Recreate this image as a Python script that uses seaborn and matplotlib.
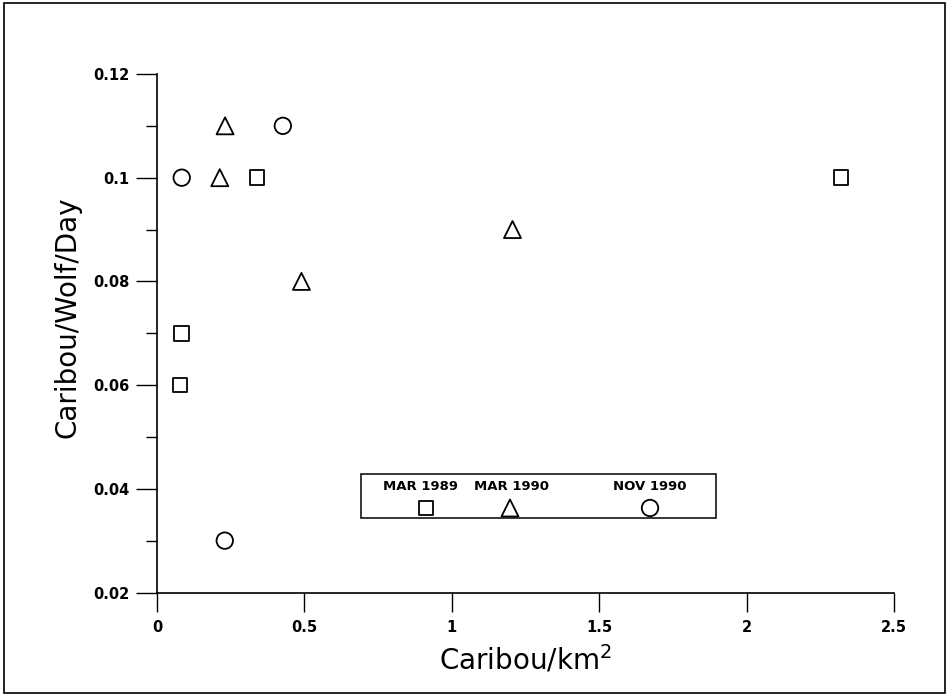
import pandas as pd
import seaborn as sns
import matplotlib.pyplot as plt
from matplotlib.patches import Rectangle
from matplotlib.ticker import MultipleLocator

# Data
mar1989_x = [0.084, 0.078, 0.339, 2.32]
mar1989_y = [0.07, 0.06, 0.10, 0.10]
mar1990_x = [0.231, 0.213, 0.49, 1.206]
mar1990_y = [0.11, 0.10, 0.08, 0.09]
nov1990_x = [0.084, 0.427, 0.23]
nov1990_y = [0.10, 0.11, 0.03]
series_names = ["MAR 1989", "MAR 1990", "NOV 1990"]
series_markers = ["s", "^", "o"]
series_sizes = [110, 150, 140]
x_ticks = [0, 0.5, 1, 1.5, 2, 2.5]
x_ticklabels = ["0", "0.5", "1", "1.5", "2", "2.5"]
y_ticks = [0.02, 0.04, 0.06, 0.08, 0.1, 0.12]
y_ticklabels = ["0.02", "0.04", "0.06", "0.08", "0.1", "0.12"]

df = pd.concat([
    pd.DataFrame({"x": mar1989_x, "y": mar1989_y, "survey": series_names[0]}),
    pd.DataFrame({"x": mar1990_x, "y": mar1990_y, "survey": series_names[1]}),
    pd.DataFrame({"x": nov1990_x, "y": nov1990_y, "survey": series_names[2]}),
])

sns.set_style("ticks")
plt.rcParams['font.family'] = ['DejaVu Sans']
plt.rcParams['text.color'] = 'black'
plt.rcParams['axes.labelcolor'] = 'black'
plt.rcParams['xtick.color'] = 'black'
plt.rcParams['ytick.color'] = 'black'

fig = plt.figure(figsize=(9.49, 6.96), dpi=100)
ax = fig.add_axes([0.1654, 0.1487, 0.942 - 0.1654, 0.8937 - 0.1487])

for name, mk, sz in zip(series_names, series_markers, series_sizes):
    sub = df[df["survey"] == name]
    sns.scatterplot(x="x", y="y", data=sub, marker=mk, s=sz, facecolor="none",
                    edgecolor="black", linewidth=1.3, ax=ax, legend=False, zorder=3)

ax.set_xlim(0, 2.5)
ax.set_ylim(0.02, 0.12)
ax.set_xticks(x_ticks)
ax.set_xticklabels(x_ticklabels)
ax.set_yticks(y_ticks)
ax.set_yticklabels(y_ticklabels)
ax.yaxis.set_minor_locator(MultipleLocator(0.01))
for lab in ax.get_xticklabels() + ax.get_yticklabels():
    lab.set_fontweight("bold")
    lab.set_fontsize(10.5)
ax.tick_params(axis="y", which="major", length=15, width=1, direction="out", pad=5)
ax.tick_params(axis="y", which="minor", length=8, width=1, direction="out")
ax.tick_params(axis="x", which="major", length=14, width=1, direction="out", pad=6)
sns.despine(ax=ax)
for sp in ["left", "bottom"]:
    ax.spines[sp].set_linewidth(1.2)
    ax.spines[sp].set_color("black")

ax.set_xlabel("Caribou/km$^2$", fontsize=20, labelpad=6)
ax.set_ylabel("Caribou/Wolf/Day", fontsize=20)
ax.yaxis.set_label_coords(-0.102, 0.53)

# Legend box with labels above markers
ax.add_patch(Rectangle((0.277, 0.1437), 0.758 - 0.277, 0.2285 - 0.1437,
                       transform=ax.transAxes, fill=False, edgecolor="black", lw=1.1))
label_x = [0.357, 0.481, 0.669]
marker_x = [0.365, 0.479, 0.669]
for name, mk, sz, lx, mx in zip(series_names, series_markers, series_sizes, label_x, marker_x):
    ax.text(lx, 0.205, name, transform=ax.transAxes, ha="center", va="center",
            fontsize=9.5, fontweight="bold")
    ax.scatter([mx], [0.163], transform=ax.transAxes, marker=mk, s=sz,
               facecolor="none", edgecolor="black", linewidth=1.3, clip_on=False)

# Outer frame
fig.add_artist(Rectangle((0.004, 0.004), 0.992, 0.992, transform=fig.transFigure,
                         fill=False, edgecolor="black", lw=1.2))

fig.savefig("out.png", dpi=100)
